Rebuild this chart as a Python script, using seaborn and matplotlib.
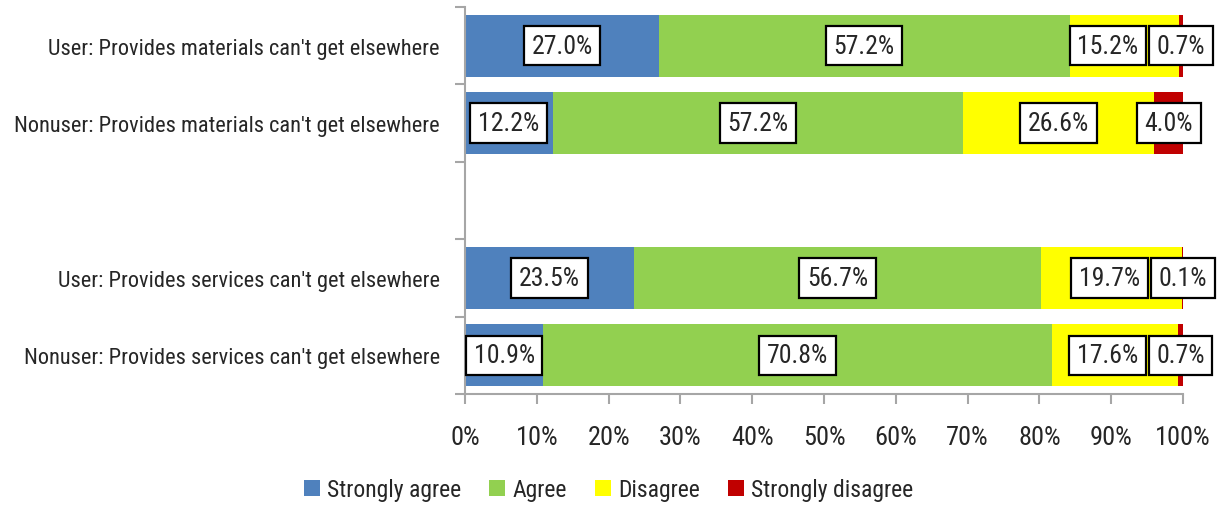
import matplotlib
matplotlib.use("Agg")
import matplotlib.pyplot as plt
from matplotlib import font_manager
import seaborn as sns
import pandas as pd
import numpy as np

categories = [
    "User: Provides materials can't get elsewhere",
    "Nonuser: Provides materials can't get elsewhere",
    "",
    "User: Provides services can't get elsewhere",
    "Nonuser: Provides services can't get elsewhere",
]
strongly_agree = [27.0, 12.2, None, 23.5, 10.9]
agree = [57.2, 57.2, None, 56.7, 70.8]
disagree = [15.2, 26.6, None, 19.7, 17.6]
strongly_disagree = [0.7, 4.0, None, 0.1, 0.7]

series_names = ["Strongly agree", "Agree", "Disagree", "Strongly disagree"]
series_colors = ["#4F81BD", "#92D050", "#FFFF00", "#C00000"]
x_ticks = [0, 10, 20, 30, 40, 50, 60, 70, 80, 90, 100]

sns.set_style("white")
installed = {f.name for f in font_manager.fontManager.ttflist}
family = [f for f in ["Roboto Condensed", "Liberation Sans Narrow", "DejaVu Sans"] if f in installed]
plt.rcParams["font.family"] = family + ["DejaVu Sans"]
plt.rcParams["font.size"] = 17

df = pd.DataFrame({
    "category": categories,
    "Strongly agree": strongly_agree,
    "Agree": agree,
    "Disagree": disagree,
    "Strongly disagree": strongly_disagree,
})

fig = plt.figure(figsize=(12.17, 5.10), dpi=100)
ax = fig.add_axes([465 / 1217, 1 - 395 / 510, 718 / 1217, 387 / 510])

ypos = np.arange(len(categories))
left = np.zeros(len(categories))
labels = []
for name, color in zip(series_names, series_colors):
    vals = df[name].astype(float).to_numpy()
    v = np.nan_to_num(vals)
    ax.barh(ypos, v, left=left, height=0.8, color=color, label=name, edgecolor="none")
    row_labels = []
    for i, val in enumerate(vals):
        if np.isnan(val):
            row_labels.append(None)
            continue
        t = ax.text(left[i] + val / 2, ypos[i], f"{val:.1f}%", ha="center", va="center",
                    fontsize=18.5, clip_on=False, zorder=5,
                    bbox=dict(boxstyle="square,pad=0.3", facecolor="white",
                              edgecolor="black", linewidth=1.6))
        row_labels.append(t)
    labels.append(row_labels)
    left = left + v

ax.set_xlim(0, 100)
ax.set_ylim(len(categories) - 0.5, -0.5)
ax.set_yticks(ypos)
ax.set_yticklabels(categories, fontsize=16.1)
ax.set_yticks(np.arange(len(categories) + 1) - 0.5, minor=True)
ax.tick_params(axis="y", which="major", left=False, length=0, pad=18)
ax.tick_params(axis="y", which="minor", left=True, length=7, width=1.5, color="#A6A6A6", direction="out")
ax.set_xticks(x_ticks)
ax.set_xticklabels([f"{t}%" for t in x_ticks], fontsize=19)
ax.tick_params(axis="x", bottom=True, length=7, width=1.5, color="#A6A6A6", direction="out", pad=15)
for side in ["top", "right"]:
    ax.spines[side].set_visible(False)
for side in ["left", "bottom"]:
    ax.spines[side].set_color("#A6A6A6")
    ax.spines[side].set_linewidth(1.5)

# keep neighbouring value boxes in a row from overlapping: push left
fig.canvas.draw()
renderer = fig.canvas.get_renderer()
px_per_unit = ax.transData.transform((1, 0))[0] - ax.transData.transform((0, 0))[0]
gap_px = 3
for i in range(len(categories)):
    row = [labels[s][i] for s in range(len(series_names))]
    if row[0] is None:
        continue
    for s in range(len(row) - 2, -1, -1):
        t, nxt = row[s], row[s + 1]
        b = t.get_bbox_patch().get_window_extent(renderer)
        bn = nxt.get_bbox_patch().get_window_extent(renderer)
        if b.x1 > bn.x0 - gap_px:
            x, y = t.get_position()
            t.set_position((x - (b.x1 - bn.x0 + gap_px) / px_per_unit, y))
            fig.canvas.draw()

handles, lbls = ax.get_legend_handles_labels()
fig.legend(handles, lbls, loc="center", bbox_to_anchor=(0.5, 1 - 491 / 510), ncol=4,
           frameon=False, fontsize=17, handlelength=0.68, handleheight=0.68,
           columnspacing=1.2, handletextpad=0.3)

fig.savefig("out.png", dpi=100)
